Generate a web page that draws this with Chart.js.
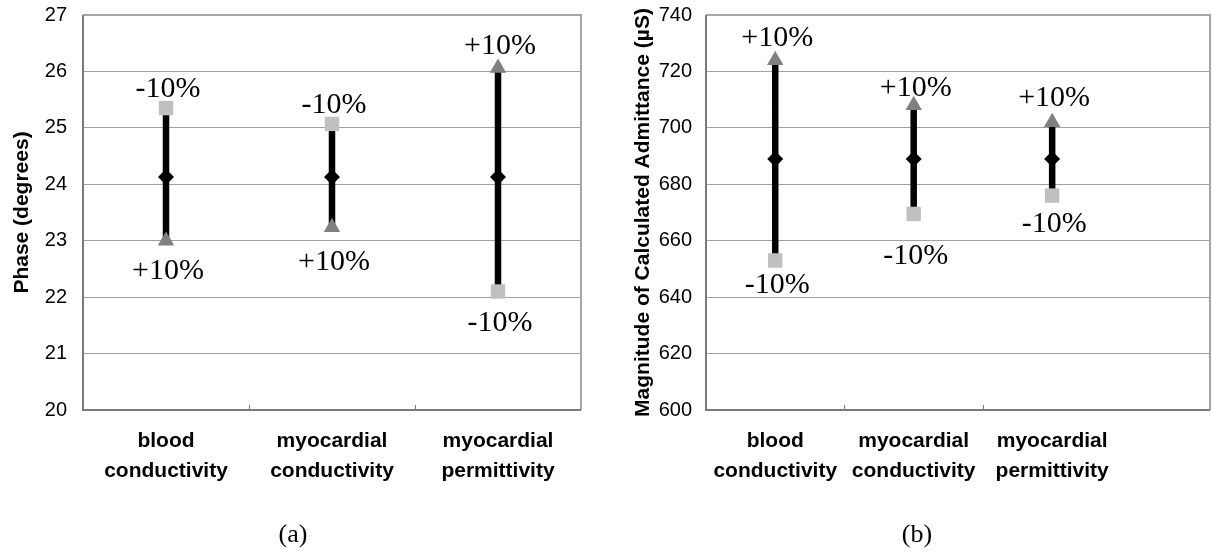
<!DOCTYPE html>
<html><head><meta charset="utf-8">
<script src="https://cdn.jsdelivr.net/npm/chart.js@4.4.1/dist/chart.umd.min.js"></script>
<style>
html,body{margin:0;padding:0;background:#fff;}
#wrap{position:relative;width:1212px;height:553px;overflow:hidden;background:#fff;}
#c1{position:absolute;left:0;top:0;}
#c2{position:absolute;left:600px;top:0;}
.cap{position:absolute;top:519px;font-family:'Liberation Serif','Times New Roman',serif;font-size:26px;line-height:30px;transform:translateX(-50%);color:#000;}
</style></head><body>
<div id="wrap">
<canvas id="c1" width="600" height="553"></canvas>
<canvas id="c2" width="612" height="553"></canvas>
<div class="cap" style="left:293px">(a)</div>
<div class="cap" style="left:917px">(b)</div>
</div>
<script>
// ---- data ----
const categories = ['blood conductivity', 'myocardial conductivity', 'myocardial permittivity'];
// (a) Phase (degrees)
const phaseMinus10 = [25.35, 25.07, 22.10];
const phaseBase    = [24.13, 24.13, 24.13];
const phasePlus10  = [23.00, 23.24, 26.06];
const phaseTicks   = { min: 20, max: 27, step: 1 };
// (b) Magnitude of calculated admittance (uS)
const magMinus10 = [653, 669.5, 676];
const magBase    = [689, 689, 689];
const magPlus10  = [724, 708, 702];
const magTicks   = { min: 600, max: 740, step: 20 };

const SANS = "'Liberation Sans', Arial, sans-serif";
const SERIF = "'Liberation Serif', 'Times New Roman', serif";

const framePlugin = {
  id: 'frame',
  beforeDatasetsDraw(chart) {
    const a = chart.chartArea, ctx = chart.ctx, xs = chart.scales.x;
    ctx.save();
    ctx.lineWidth = 2;
    ctx.strokeStyle = '#a6a6a6';
    ctx.beginPath();
    ctx.moveTo(a.left, a.top); ctx.lineTo(a.right, a.top); ctx.lineTo(a.right, a.bottom);
    ctx.stroke();
    ctx.strokeStyle = '#7a7a7a';
    ctx.beginPath();
    ctx.moveTo(a.left, a.top); ctx.lineTo(a.left, a.bottom); ctx.lineTo(a.right, a.bottom);
    ctx.stroke();
    ctx.lineWidth = 1;
    for (let i = 1; i < categories.length; i++) {
      const px = Math.round(xs.getPixelForValue(i)) + 0.5;
      ctx.beginPath(); ctx.moveTo(px, a.bottom); ctx.lineTo(px, a.bottom - 5); ctx.stroke();
    }
    ctx.restore();
  }
};

const labelPlugin = {
  id: 'pctLabels',
  afterDatasetsDraw(chart) {
    const ctx = chart.ctx;
    ctx.save();
    ctx.font = '30px ' + SERIF;
    ctx.fillStyle = '#000';
    ctx.textAlign = 'center';
    ctx.textBaseline = 'middle';
    chart.data.datasets.forEach((ds, i) => {
      if (!ds.pctLabel) return;
      const meta = chart.getDatasetMeta(i);
      meta.data.forEach((pt, j) => {
        ctx.fillText(ds.pctLabel, pt.x + 2, pt.y + ds.labelOffsets[j]);
      });
    });
    ctx.restore();
  }
};

function makeChart(id, minus, base, plus, ticks, yTitle, opt) {
  const pts = arr => arr.map((v, i) => ({ x: i + 0.5, y: v }));
  const bars = categories.flatMap((c, i) => [
    { x: i + 0.5, y: minus[i] }, { x: i + 0.5, y: plus[i] }, { x: i + 0.5, y: null }
  ]);
  return new Chart(document.getElementById(id), {
    type: 'scatter',
    data: {
      datasets: [
        { data: pts(minus), pointStyle: 'rect', pointRadius: 10.2, pointBackgroundColor: '#c0c0c0', pointBorderWidth: 0, order: 1,
          pctLabel: '-10%', labelOffsets: opt.minusOff },
        { data: pts(plus), pointStyle: 'triangle', pointRadius: 9.5, pointBackgroundColor: '#808080', pointBorderWidth: 0, order: 2,
          pctLabel: '+10%', labelOffsets: opt.plusOff },
        { data: pts(base), pointStyle: 'rectRot', pointRadius: 8, pointBackgroundColor: '#000', pointBorderWidth: 0, order: 3 },
        { data: bars, showLine: true, spanGaps: false, borderColor: '#000', borderWidth: 6.5, borderCapStyle: 'butt', pointRadius: 0, order: 10 }
      ]
    },
    options: {
      responsive: false,
      animation: false,
      events: [],
      layout: { autoPadding: false, padding: { top: 15, bottom: 0, left: opt.padLeft, right: opt.padRight } },
      plugins: { legend: { display: false }, tooltip: { enabled: false } },
      scales: {
        x: {
          type: 'linear', min: 0, max: opt.xMax,
          afterBuildTicks: s => { s.ticks = categories.map((c, i) => ({ value: i + 0.5 })); },
          afterFit: s => { s.height = 143; s.paddingLeft = 0; s.paddingRight = 0; },
          ticks: {
            callback: (v, i) => categories[i].split(' '),
            font: { family: SANS, size: 21, weight: 'bold', lineHeight: 1.4 },
            color: '#000', padding: 17, autoSkip: false, maxRotation: 0
          },
          grid: { display: false, drawTicks: false },
          border: { display: false }
        },
        y: {
          min: ticks.min, max: ticks.max,
          afterFit: s => { s.width = opt.axisW; s.paddingTop = 0; s.paddingBottom = 0; },
          ticks: { stepSize: ticks.step, font: { family: SANS, size: 20 }, color: '#000', padding: opt.tickPad },
          grid: { color: '#a0a0a0', lineWidth: 1, drawTicks: false },
          border: { display: false },
          title: { display: true, text: yTitle, color: '#000', font: { family: SANS, size: 21, weight: 'bold' }, padding: 0 }
        }
      }
    },
    plugins: [framePlugin, labelPlugin]
  });
}

makeChart('c1', phaseMinus10, phaseBase, phasePlus10, phaseTicks, 'Phase (degrees)',
  { xMax: 3, padLeft: 10, padRight: 19, axisW: 73, tickPad: 16,
    minusOff: [-19, -19, 32], plusOff: [30, 35, -22] });
makeChart('c2', magMinus10, magBase, magPlus10, magTicks, 'Magnitude of Calculated Admittance (\u00b5S)',
  { xMax: 3.64, padLeft: 31, padRight: 2, axisW: 75, tickPad: 14,
    minusOff: [25, 42, 29], plusOff: [-22, -17, -24] });
</script>
</body></html>
